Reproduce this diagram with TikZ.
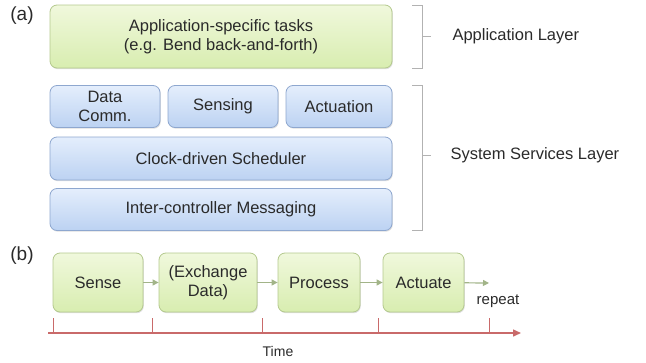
\documentclass[tikz,border=0pt]{standalone}
\usepackage{fontspec}
\setmainfont{Liberation Sans}
\usetikzlibrary{arrows.meta,shadows}
\definecolor{gfillA}{HTML}{F0F8DC}
\definecolor{gfillB}{HTML}{D8EDB0}
\definecolor{gline}{HTML}{B4C98E}
\definecolor{bfillA}{HTML}{E4EEFC}
\definecolor{bfillB}{HTML}{BCD2F2}
\definecolor{bline}{HTML}{8EA7CF}
\definecolor{arr}{HTML}{A2B488}
\definecolor{tline}{HTML}{C96A6A}
\definecolor{txt}{HTML}{2A2A2A}
\tikzset{
  x=1pt,y=-1pt,
  every node/.style={text=txt,font=\fontsize{16.5}{19}\selectfont},
  gbox/.style={draw=gline,line width=0.8pt,rounded corners=7pt,top color=gfillA,bottom color=gfillB,
    drop shadow={shadow xshift=0.8pt,shadow yshift=-1.2pt,opacity=0.25},align=center,inner sep=0pt},
  bbox/.style={draw=bline,line width=0.8pt,rounded corners=7pt,top color=bfillA,bottom color=bfillB,
    drop shadow={shadow xshift=0.8pt,shadow yshift=-1.2pt,opacity=0.25},align=center,inner sep=0pt},
  brk/.style={draw=gray!60,line width=0.7pt},
  flow/.style={draw=arr,line width=1.2pt,-{Triangle[length=6pt,width=6pt]}},
  tick/.style={draw=tline,line width=0.8pt},
}
\begin{document}
\begin{tikzpicture}
\useasboundingbox (0,0) rectangle (646,362);
% (a)
\node[font=\fontsize{19}{21}\selectfont] (la) at (22,16) {(a)};
\node[gbox,minimum width=342pt,minimum height=63pt] (app) at (221,36.5) {Application-specific tasks\\(e.g. Bend back-and-forth)};
\node[bbox,minimum width=110pt,minimum height=42pt] (comm) at (105,106.5) {Data\\Comm.};
\node[bbox,minimum width=110pt,minimum height=42pt] (sens) at (223,106.5) {Sensing};
\node[bbox,minimum width=106pt,minimum height=42pt] (act) at (339,106.5) {Actuation};
\node[bbox,minimum width=342pt,minimum height=43pt] (clk) at (221,158.5) {Clock-driven Scheduler};
\node[bbox,minimum width=342pt,minimum height=42pt] (msg) at (221,209.5) {Inter-controller Messaging};
% brackets
\coordinate (a1) at (412,5); \coordinate (a2) at (422,5); \coordinate (a3) at (422,68); \coordinate (a4) at (412,68);
\coordinate (am) at (422,36.5); \coordinate (amt) at (431,36.5);
\draw[brk] (a1) -- (a2) -- (a3) -- (a4);
\draw[brk] (am) -- (amt);
\node[anchor=west] (appl) at (449,36.5) {Application Layer};
\coordinate (s1) at (412,85); \coordinate (s2) at (422,85); \coordinate (s3) at (422,230); \coordinate (s4) at (412,230);
\coordinate (sm) at (422,155); \coordinate (smt) at (431,155);
\draw[brk] (s1) -- (s2) -- (s3) -- (s4);
\draw[brk] (sm) -- (smt);
\node[anchor=west] (sysl) at (447,155) {System Services Layer};
% (b)
\node[font=\fontsize{19}{21}\selectfont] (lb) at (22,256) {(b)};
\node[gbox,minimum width=90pt,minimum height=59pt] (sense) at (98,282.5) {Sense};
\node[gbox,minimum width=98pt,minimum height=59pt] (exch) at (208,282.5) {(Exchange\\Data)};
\node[gbox,minimum width=82pt,minimum height=59pt] (proc) at (319,282.5) {Process};
\node[gbox,minimum width=81pt,minimum height=59pt] (actu) at (423.5,282.5) {Actuate};
\coordinate (rep) at (489,283);
\draw[flow] (sense) -- (exch);
\draw[flow] (exch) -- (proc);
\draw[flow] (proc) -- (actu);
\draw[flow] (actu) -- (rep);
\node[anchor=center,font=\fontsize{15}{17}\selectfont] (repl) at (498,301) {repeat};
% timeline
\coordinate (t0) at (48,333); \coordinate (t1) at (521,333);
\draw[draw=tline,line width=1.5pt,-{Triangle[length=8pt,width=7pt]}] (t0) -- (t1);
\foreach \xx/\nm in {53/k1,152/k2,262/k3,378/k4,489/k5}{
  \coordinate (\nm a) at (\xx,318); \coordinate (\nm b) at (\xx,333);
  \draw[tick] (\nm a) -- (\nm b);
}
\node[font=\fontsize{14}{16}\selectfont] (time) at (278,351) {Time};
\end{tikzpicture}
\end{document}
